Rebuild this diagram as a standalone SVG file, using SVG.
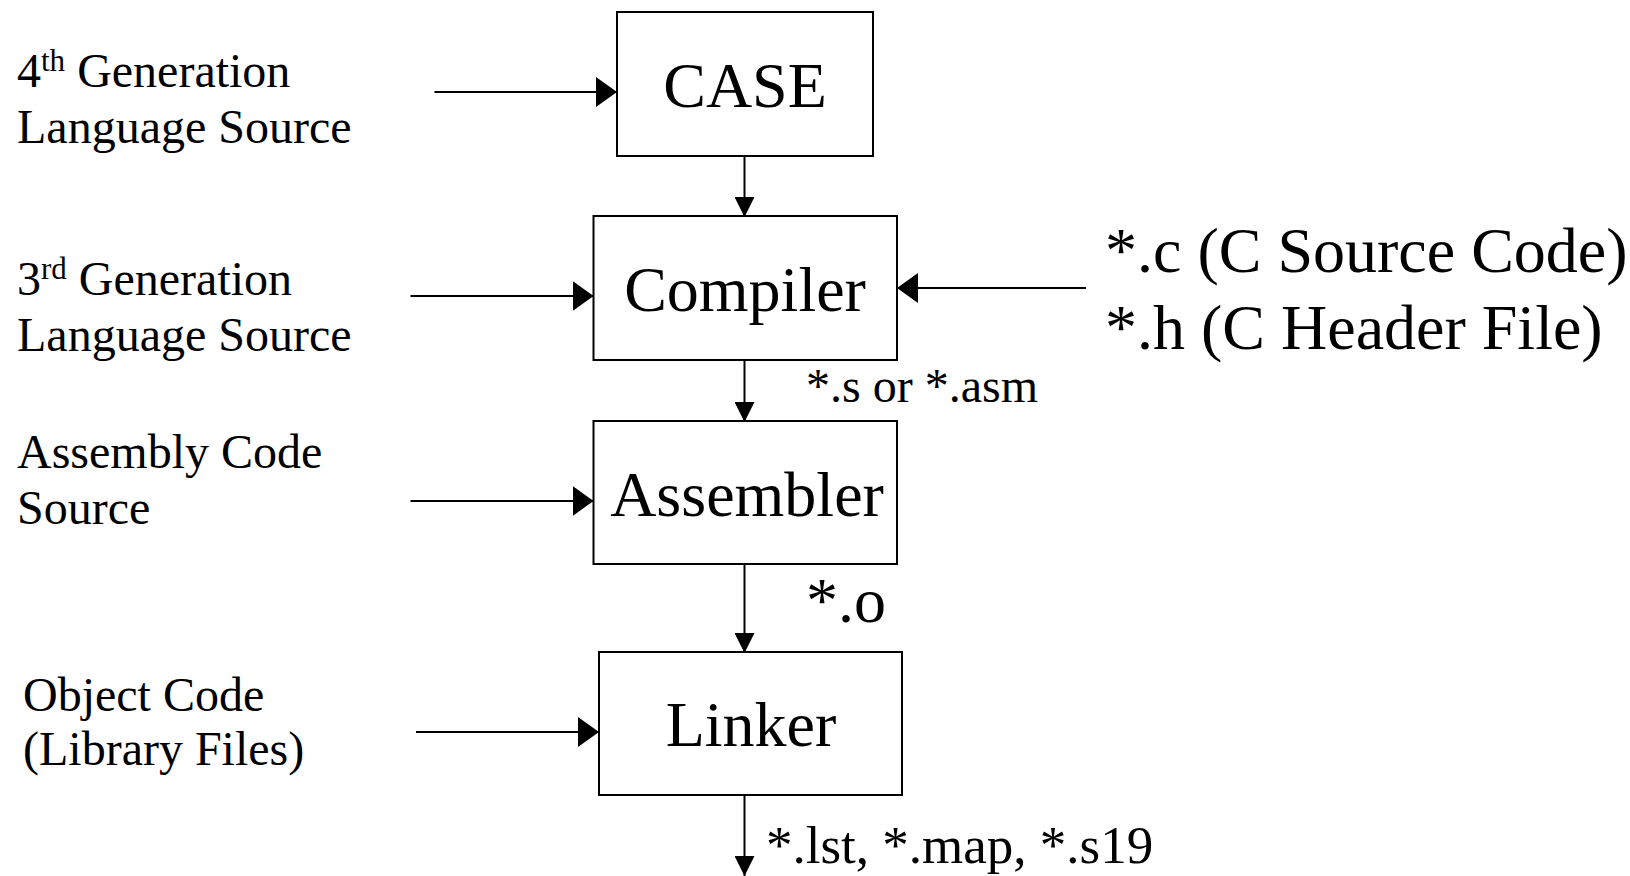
<svg xmlns="http://www.w3.org/2000/svg" width="1630" height="876" viewBox="0 0 1630 876">
  <style>
    .box { fill: #ffffff; stroke: #000000; stroke-width: 2; }
    .conn { stroke: #000000; stroke-width: 2; fill: none; }
    .h { marker-end: url(#arrow-h); }
    .v { marker-end: url(#arrow-v); }
    .big { font-size: 64px; fill: #000000; }
    .mid { font-size: 48px; fill: #000000; }
    .out { font-size: 53px; fill: #000000; }
    .sup { font-size: 31px; }
  </style>
  <defs>
    <!-- side inputs use a taller head than the vertical flow arrows -->
    <marker id="arrow-h" viewBox="0 0 21 30" refX="21" refY="15" markerWidth="21" markerHeight="30" markerUnits="userSpaceOnUse" orient="auto">
      <path d="M0,0 L21,15 L0,30 Z" fill="#000000"/>
    </marker>
    <marker id="arrow-v" viewBox="0 0 20 20" refX="20" refY="10" markerWidth="20" markerHeight="20" markerUnits="userSpaceOnUse" orient="auto">
      <path d="M0,0 L20,10 L0,20 Z" fill="#000000"/>
    </marker>
  </defs>
  <rect width="1630" height="876" fill="#ffffff"/>

  <g font-family="Liberation Serif, Times New Roman, serif">
    <!-- toolchain stages -->
    <g id="case">
      <rect class="box" x="617" y="12" width="256" height="144"/>
      <text class="big" x="745" y="107" text-anchor="middle">CASE</text>
    </g>
    <g id="compiler">
      <rect class="box" x="593.5" y="216" width="303.5" height="144"/>
      <text class="big" x="745" y="311" text-anchor="middle">Compiler</text>
    </g>
    <g id="assembler">
      <rect class="box" x="593.5" y="421" width="303.5" height="143"/>
      <text class="big" x="747" y="516" text-anchor="middle">Assembler</text>
    </g>
    <g id="linker">
      <rect class="box" x="599" y="652" width="303" height="143"/>
      <text class="big" x="751" y="746" text-anchor="middle">Linker</text>
    </g>

    <!-- input sources -->
    <g id="src-4gl">
      <text class="mid" x="17" y="87">4<tspan class="sup" dy="-16">th</tspan><tspan dy="16"> Generation</tspan></text>
      <text class="mid" x="17" y="143">Language Source</text>
    </g>
    <g id="src-3gl">
      <text class="mid" x="17" y="295">3<tspan class="sup" dy="-16">rd</tspan><tspan dy="16"> Generation</tspan></text>
      <text class="mid" x="17" y="351">Language Source</text>
    </g>
    <g id="src-asm">
      <text class="mid" x="17" y="468">Assembly Code</text>
      <text class="mid" x="17" y="524">Source</text>
    </g>
    <g id="src-obj">
      <text class="mid" x="23" y="711">Object Code</text>
      <text class="mid" x="23" y="765">(Library Files)</text>
    </g>
    <g id="src-c">
      <text class="big" x="1105" y="272">*.c (C Source Code)</text>
      <text class="big" x="1105" y="349">*.h (C Header File)</text>
    </g>

    <!-- connectors -->
    <g id="connectors">
      <line class="conn h" x1="434.5" y1="92" x2="617" y2="92"/>
      <line class="conn h" x1="410.5" y1="296" x2="593.5" y2="296"/>
      <line class="conn h" x1="410.5" y1="501" x2="593.5" y2="501"/>
      <line class="conn h" x1="416" y1="732" x2="599" y2="732"/>
      <line class="conn h" x1="1086" y1="288" x2="897" y2="288"/>
      <line class="conn v" x1="744.5" y1="156" x2="744.5" y2="217"/>
      <line class="conn v" x1="744.5" y1="360" x2="744.5" y2="422"/>
      <line class="conn v" x1="744.5" y1="564" x2="744.5" y2="653"/>
      <line class="conn v" x1="744.5" y1="795" x2="744.5" y2="876"/>
      <text class="mid" x="806" y="402">*.s or *.asm</text>
      <text class="big" x="806" y="622">*.o</text>
      <text class="out" x="766" y="863">*.lst, *.map, *.s19</text>
    </g>
  </g>
</svg>
